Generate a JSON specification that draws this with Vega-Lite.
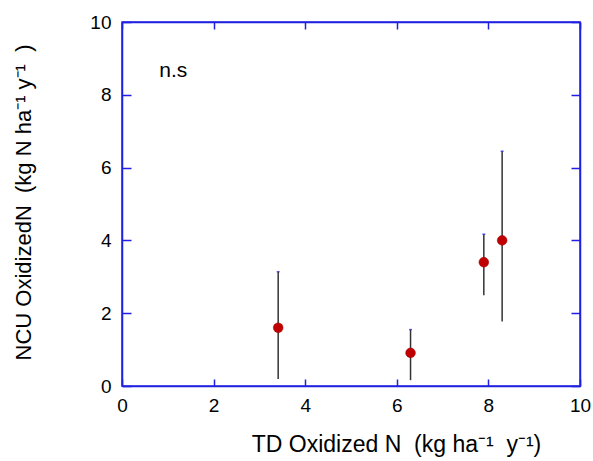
{
  "$schema": "https://vega.github.io/schema/vega-lite/v6.json",
  "width": 458,
  "height": 364,
  "autosize": {"type": "none"},
  "padding": {"left": 122, "top": 22, "right": 13, "bottom": 75},
  "background": "white",
  "config": {
    "font": "Liberation Sans",
    "view": {"stroke": "#2020e0", "strokeWidth": 1.5},
    "axis": {"grid": false, "domainColor": "#2020e0", "domainWidth": 1.5, "tickColor": "#2020e0", "tickWidth": 1.5, "labelColor": "black", "titleColor": "black", "titleFontWeight": "normal", "labelFont": "Liberation Sans", "titleFont": "Liberation Sans"}
  },
  "datasets": {
    "pts": [
      {"td": 3.41, "ncu": 1.60, "lo": 0.19, "hi": 3.14},
      {"td": 6.30, "ncu": 0.91, "lo": 0.16, "hi": 1.55},
      {"td": 7.90, "ncu": 3.40, "lo": 2.49, "hi": 4.17},
      {"td": 8.30, "ncu": 4.00, "lo": 1.77, "hi": 6.45}
    ],
    "note": [{"td": 1.12, "ncu": 8.5, "label": "n.s"}]
  },
  "layer": [
    {
      "data": {"name": "pts"},
      "layer": [
        {
          "mark": {"type": "rule", "color": "#333333", "strokeWidth": 1.5},
          "encoding": {
            "x": {"field": "td", "type": "quantitative", "scale": {"domain": [0, 10], "nice": false, "zero": false},
              "axis": {"orient": "bottom", "values": [0, 2, 4, 6, 8, 10], "tickSize": -7, "labelPadding": 17, "labelFontSize": 19, "labelFlush": false,
                "title": "TD Oxidized N\u00a0\u00a0(kg ha⁻¹\u00a0\u00a0y⁻¹)", "titleFontSize": 23, "titleX": 274, "titleY": 65, "titleBaseline": "alphabetic", "titleAlign": "center"}},
            "y": {"field": "lo", "type": "quantitative", "scale": {"domain": [0, 10], "nice": false, "zero": false},
              "axis": {"orient": "left", "values": [0, 2, 4, 6, 8, 10], "tickSize": -9, "labelPadding": 20, "labelFontSize": 19, "labelFlush": false,
                "title": "NCU OxidizedN\u00a0\u00a0(kg N ha⁻¹ y⁻¹\u00a0\u00a0)", "titleFontSize": 22, "titleX": -92, "titleY": 180, "titleBaseline": "alphabetic", "titleAlign": "center", "titleAngle": -90}},
            "y2": {"field": "hi"}
          }
        },
        {
          "mark": {"type": "tick", "color": "#2020e0", "orient": "horizontal", "size": 3, "thickness": 1.5},
          "encoding": {
            "x": {"field": "td", "type": "quantitative"},
            "y": {"field": "hi", "type": "quantitative"}
          }
        },
        {
          "mark": {"type": "point", "filled": true, "color": "#c00000", "size": 95, "opacity": 1, "stroke": "#a00000", "strokeWidth": 0.5},
          "encoding": {
            "x": {"field": "td", "type": "quantitative"},
            "y": {"field": "ncu", "type": "quantitative"}
          }
        }
      ]
    },
    {
      "data": {"name": "note"},
      "mark": {"type": "text", "fontSize": 21, "align": "center", "baseline": "alphabetic", "color": "black"},
      "encoding": {
        "x": {"field": "td", "type": "quantitative", "scale": {"domain": [0, 10], "nice": false, "zero": false},
          "axis": {"orient": "top", "values": [0, 2, 4, 6, 8, 10], "tickSize": -7, "labels": false, "title": null}},
        "y": {"field": "ncu", "type": "quantitative", "scale": {"domain": [0, 10], "nice": false, "zero": false},
          "axis": {"orient": "right", "values": [0, 2, 4, 6, 8, 10], "tickSize": -9, "labels": false, "title": null}},
        "text": {"field": "label"}
      }
    }
  ],
  "resolve": {"axis": {"x": "independent", "y": "independent"}}
}
